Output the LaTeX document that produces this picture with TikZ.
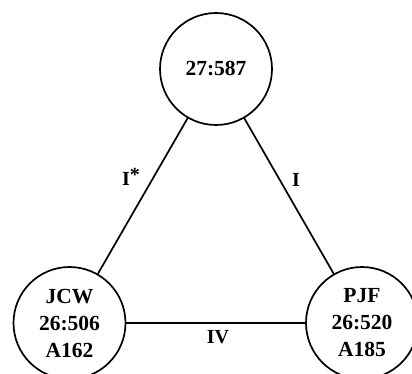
\documentclass[tikz,border=0pt]{standalone}
\usepackage{fontspec}
\setmainfont{Liberation Serif}
\begin{document}
\begin{tikzpicture}[x=1pt,y=-1pt,
  site/.style={circle,draw,line width=1.7pt,minimum size=112pt,inner sep=0pt,align=center,font=\fontsize{21.5}{27}\selectfont\bfseries},
  link/.style={line width=1.7pt},
  lab/.style={font=\fontsize{20}{22}\selectfont\bfseries}]
\useasboundingbox (0,0) rectangle (412,374);
\node[site] (top) at (216,69) {27:587};
\node[site] (jcw) at (69.5,323) {JCW\\26:506\\A162};
\node[site] (pjf) at (362,323) {PJF\\26:520\\A185};
\draw[link] (top) -- (jcw);
\draw[link] (top) -- (pjf);
\draw[link] (jcw) -- (pjf);
\node[lab] (l1) at (131,177) {I\raisebox{4pt}{*}};
\node[lab] (l2) at (296,180) {I};
\node[lab] (l3) at (218,337) {IV};
\end{tikzpicture}
\end{document}
